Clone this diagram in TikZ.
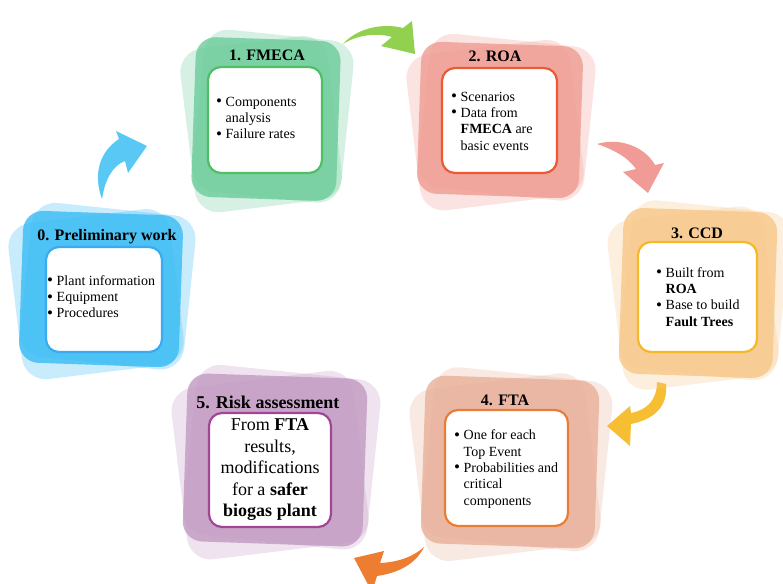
\documentclass[tikz,border=0pt]{standalone}
\usepackage{fontspec}
\setmainfont{Liberation Serif}

% layer tints of the six stages
\definecolor{lblue}{RGB}{56,187,244}
\definecolor{lgreen}{RGB}{107,204,153}
\definecolor{lpink}{RGB}{238,156,145}
\definecolor{lsand}{RGB}{247,198,136}
\definecolor{lsalmon}{RGB}{232,175,153}
\definecolor{lmauve}{RGB}{193,153,193}
% borders of the white panels
\definecolor{bblue}{RGB}{60,170,240}
\definecolor{bgreen}{RGB}{80,190,100}
\definecolor{bpink}{RGB}{235,90,50}
\definecolor{bsand}{RGB}{245,185,40}
\definecolor{bsalmon}{RGB}{232,125,55}
\definecolor{bmauve}{RGB}{160,70,150}
% curved arrows
\definecolor{ablue}{RGB}{90,200,245}
\definecolor{agreen}{RGB}{146,208,80}
\definecolor{apink}{RGB}{240,155,150}
\definecolor{ayellow}{RGB}{246,190,50}
\definecolor{aorange}{RGB}{237,125,49}

% bullet mark and the matching indent of a continued line
\newcommand{\bul}{\makebox[9.5pt][l]{\raisebox{-0.5pt}{\fontsize{17}{17}\selectfont\textbullet}}}
\newcommand{\ind}{\hspace*{9.5pt}}

% three stacked, slightly turned rounded squares: cx, cy, w, h, colour
\newcommand{\stackbox}[5]{%
  \begin{scope}[shift={(#1,#2)}]
    \fill[#5, opacity=0.28, rotate=7, rounded corners=24pt]
      (-#3/2-7,-#4/2+2) rectangle (#3/2-4,#4/2+7);
    \fill[#5, opacity=0.28, rotate=-6, rounded corners=24pt]
      (-#3/2+4,-#4/2-5) rectangle (#3/2+9,#4/2-2);
    \fill[#5, opacity=0.8, rotate=-2, rounded corners=20pt]
      (-#3/2,-#4/2) rectangle (#3/2,#4/2);
  \end{scope}}

\tikzset{
  panel/.style={draw=#1, fill=white, line width=2.2pt, rounded corners=13pt, inner sep=0pt},
  stagetitle/.style={font=\fontsize{16}{19}\selectfont\bfseries, inner sep=0pt, anchor=base},
  bigtitle/.style={font=\fontsize{18}{21}\selectfont\bfseries, inner sep=0pt, anchor=base},
  body/.style={font=\fontsize{14}{16.3}\selectfont, align=left, inner sep=0pt, anchor=west},
  bigbody/.style={font=\fontsize{18}{21.5}\selectfont, align=center, inner sep=0pt},
}

\begin{document}
\begin{tikzpicture}[x=1pt,y=-1pt]
\useasboundingbox (0,0) rectangle (783,583);

% ---- curved arrows between the stages ----
\fill[ablue] (102,199) .. controls (93,175) and (99,152) .. (119,139) -- (116,131)
  -- (147,146) -- (128,173) -- (125,161) .. controls (112,166) and (105,180) .. (102,199) -- cycle;
\fill[agreen] (343,44) .. controls (355,30) and (380,22) .. (403,28) -- (412,21)
  -- (415,54) -- (381,46) -- (392,37) .. controls (375,32) and (355,36) .. (343,44) -- cycle;
\fill[apink] (597,144) .. controls (620,137) and (645,147) .. (655,165) -- (664,163)
  -- (648,193) -- (623,172) -- (636,169) .. controls (628,157) and (612,149) .. (597,144) -- cycle;
\fill[ayellow] (657,382) -- (666,384) .. controls (668,405) and (656,419) .. (631,424) -- (630,446)
  -- (607,426) -- (630,406) -- (631,413) .. controls (647,410) and (657,400) .. (657,382) -- cycle;
\fill[aorange] (424,547) .. controls (416,564) and (398,573) .. (377,576) -- (372,592)
  -- (354,558) -- (384,551) -- (380,563) .. controls (400,562) and (414,556) .. (424,547) -- cycle;

% ---- stacked backgrounds ----
\stackbox{101}{289}{160}{152}{lblue}
\stackbox{266}{119}{145}{160}{lgreen}
\stackbox{500}{120}{162}{152}{lpink}
\stackbox{698}{293}{154}{166}{lsand}
\stackbox{510}{462}{174}{168}{lsalmon}
\stackbox{275}{460}{180}{168}{lmauve}

% ---- 0. Preliminary work ----
\node[panel=bblue, minimum width=116pt, minimum height=105pt] (p0) at (104,299.5) {};
\node[stagetitle] (h0) at (107,240) {0. Preliminary work};
\node[body] (t0) at (47,297) {\bul Plant information\\ \bul Equipment\\ \bul Procedures};

% ---- 1. FMECA ----
\node[panel=bgreen, minimum width=114pt, minimum height=106pt] (p1) at (265,120) {};
\node[stagetitle] (h1) at (267,60.5) {1. FMECA};
\node[body] (t1) at (216,118) {\bul Components\\ \ind analysis\\ \bul Failure rates};

% ---- 2. ROA ----
\node[panel=bpink, minimum width=115pt, minimum height=105pt] (p2) at (499.5,120.5) {};
\node[stagetitle] (h2) at (495,62) {2. ROA};
\node[body] (t2) at (451,121) {\bul Scenarios\\ \bul Data from\\ \ind\textbf{FMECA} are\\ \ind basic events};

% ---- 3. CCD ----
\node[panel=bsand, minimum width=119pt, minimum height=110pt] (p3) at (697.5,297) {};
\node[stagetitle] (h3) at (697,238.5) {3. CCD};
\node[body] (t3) at (656,297) {\bul Built from\\ \ind\textbf{ROA}\\ \bul Base to build\\ \ind\textbf{Fault Trees}};

% ---- 4. FTA ----
\node[panel=bsalmon, minimum width=123pt, minimum height=116pt] (p4) at (506.5,468) {};
\node[stagetitle] (h4) at (505,405.5) {4. FTA};
\node[body] (t4) at (454,469) {\bul One for each\\ \ind Top Event\\ \bul Probabilities and\\ \ind critical\\ \ind components};

% ---- 5. Risk assessment ----
\node[panel=bmauve, minimum width=122pt, minimum height=114pt] (p5) at (270,470) {};
\node[bigtitle] (h5) at (268,408) {5. Risk assessment};
\node[bigbody] (t5) at (270,470) {From \textbf{FTA}\\ results,\\ modifications\\ for a \textbf{safer}\\ \textbf{biogas plant}};

\end{tikzpicture}
\end{document}
